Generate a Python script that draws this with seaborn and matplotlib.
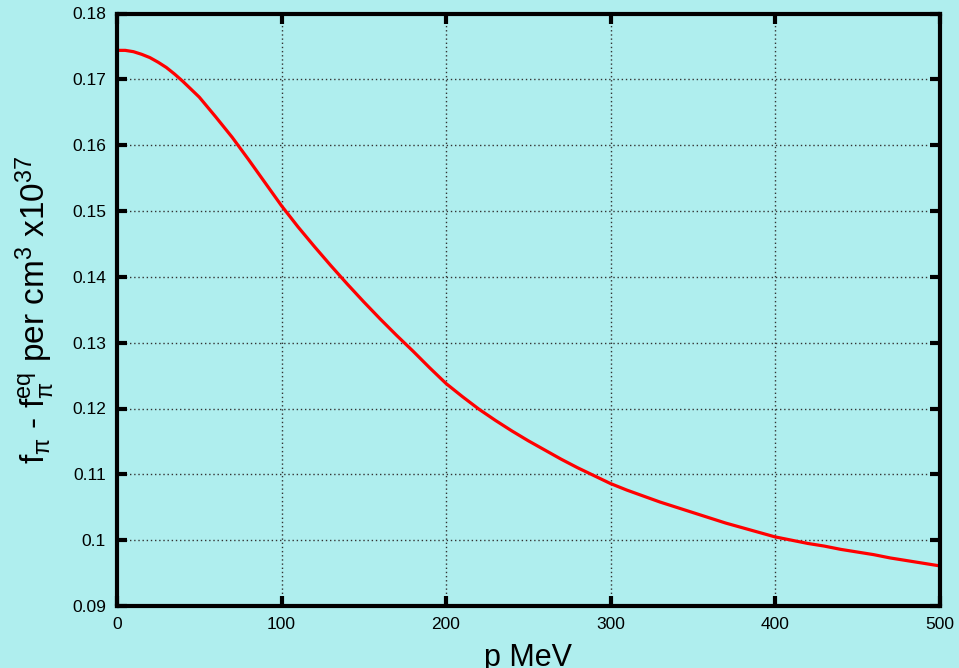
import numpy as np
import pandas as pd
import matplotlib
matplotlib.use('Agg')
import matplotlib.pyplot as plt
import seaborn as sns

# momentum (MeV) and f_pi - f_pi^eq (per cm^3, x10^37)
p_mev = [0, 5, 10, 15, 20, 25, 30, 35, 40, 50, 60, 70, 80, 90,
         100, 110, 120, 130, 140, 150, 160, 170, 180, 190,
         200, 210, 220, 230, 240, 250, 260, 270, 280, 290,
         300, 310, 320, 330, 340, 350, 360, 370, 380, 390,
         400, 410, 420, 430, 440, 450, 460, 470, 480, 490, 500]
df_val = [0.1744, 0.1744, 0.1742, 0.1738, 0.1733, 0.1726, 0.1718, 0.1708, 0.1697, 0.1673,
          0.1643, 0.1612, 0.1578, 0.1543,
          0.1508, 0.1476, 0.1446, 0.1417, 0.1389, 0.1362, 0.1336, 0.1311, 0.1287, 0.1262,
          0.1238, 0.1218, 0.1199, 0.1182, 0.1166, 0.1151, 0.1137, 0.1123, 0.1110, 0.1098,
          0.1086, 0.1076, 0.1067, 0.1058, 0.1050, 0.1042, 0.1034, 0.1026, 0.1019, 0.1012,
          0.1005, 0.1000, 0.0995, 0.0991, 0.0986, 0.0982, 0.0978, 0.0973, 0.0969, 0.0965, 0.0961]
x_ticks = [0, 100, 200, 300, 400, 500]
y_ticks = [0.09, 0.10, 0.11, 0.12, 0.13, 0.14, 0.15, 0.16, 0.17, 0.18]
y_tick_labels = ['0.09', '0.1', '0.11', '0.12', '0.13', '0.14', '0.15', '0.16', '0.17', '0.18']

sns.set_style('ticks')
plt.rcParams['font.family'] = ['Liberation Sans', 'DejaVu Sans']
plt.rcParams['mathtext.default'] = 'regular'

bg = '#afeeee'
fig = plt.figure(figsize=(9.59, 6.68), dpi=100, facecolor=bg)
ax = fig.add_axes([117 / 959, 1 - 606 / 668, 822.5 / 959, 592.5 / 668])
ax.set_facecolor(bg)

data = pd.DataFrame({'p': p_mev, 'f': df_val})
sns.lineplot(data=data, x='p', y='f', ax=ax, color='#ff0000', linewidth=2.3)

ax.set_xlim(0, 500)
ax.set_ylim(0.09, 0.18)
ax.set_xticks(x_ticks)
ax.set_xticklabels([str(t) for t in x_ticks])
ax.set_yticks(y_ticks)
ax.set_yticklabels(y_tick_labels)

ax.grid(True, linestyle=(0, (1, 2)), color='#333333', linewidth=1)
for s in ax.spines.values():
    s.set_linewidth(3)
    s.set_color('black')
ax.tick_params(direction='in', length=7, width=3, top=True, right=True,
               labelsize=12.5, pad=8, colors='black')

ax.set_xlabel('p MeV', fontsize=22, labelpad=8, color='black')
ax.set_ylabel(r'f$_{\pi}$ - f$_{\pi}^{eq}$ per cm$^{3}$ x10$^{37}$', fontsize=24, color='black')
ax.yaxis.set_label_coords(-0.073, 0.5)

fig.savefig('out.png', dpi=100, facecolor=bg)
